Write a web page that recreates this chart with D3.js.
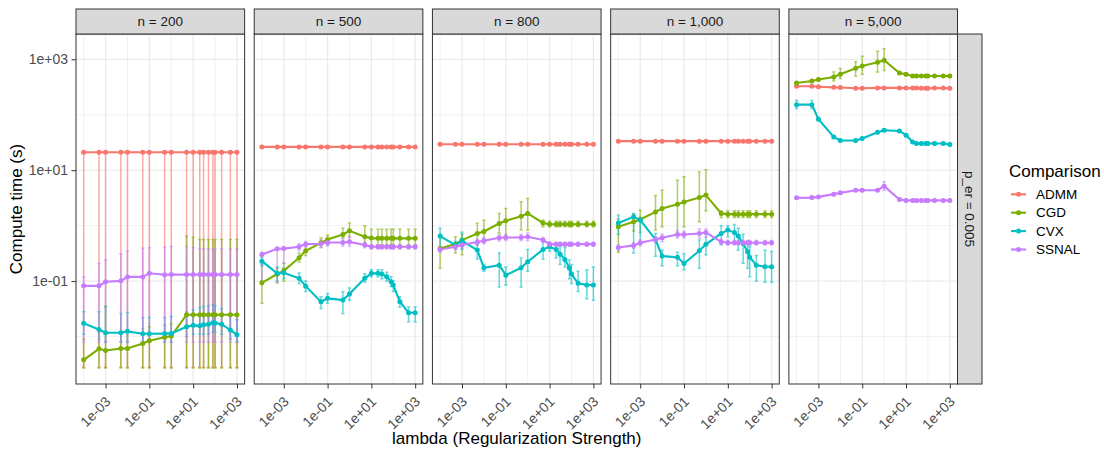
<!DOCTYPE html>
<html><head><meta charset="utf-8">
<script src="https://cdn.jsdelivr.net/npm/d3@7"></script>
<style>body{margin:0;background:#fff}svg{display:block;font-family:"Liberation Sans",Arial,sans-serif}</style>
</head><body><svg id="c" width="1104" height="451"></svg>
<script>
// ---- data ----
const lambdas = [1e-4,5e-4,1e-3,5e-3,1e-2,5e-2,0.1,0.5,1,5,10,20,30,50,80,100,200,500,1000];
const methods = ["ADMM","CGD","CVX","SSNAL"];
const colors = ["#F8766D","#7CAE00","#00BFC4","#C77CFF"];
const panelLabels = ["n = 200","n = 500","n = 800","n = 1,000","n = 5,000"];
const rowLabel = "p_er = 0.005";
const yTicks = [1e-1,1e1,1e3];
const yTickLabels = ["1e-01","1e+01","1e+03"];
const xTicks = [1e-3,1e-1,1e1,1e3];
const xTickLabels = ["1e-03","1e-01","1e+01","1e+03"];

// [mean, lower, upper] for each lambda
const n200_ADMM = [[21,0.0028,22.5],[21,0.0028,22.5],[21,0.0028,22.5],[21,0.0028,22.5],[21,0.0028,22.5],[21,0.0028,22.5],[21,0.0028,22.5],[21,0.0028,22.5],[21,0.0028,22.5],[21,0.0028,22.5],[21,0.0028,22.5],[21,0.0028,22.5],[21,0.0028,22.5],[21,0.0028,22.5],[21,0.0028,22.5],[21,0.0028,22.5],[21,0.0028,22.5],[21,0.0028,22.5],[21,0.0028,22.5]];
const n200_CGD = [[0.0038,0.0027,0.009],[0.0060,0.0027,0.012],[0.0056,0.0027,0.035],[0.0061,0.0027,0.012],[0.0061,0.0027,0.012],[0.0075,0.0027,0.014],[0.0084,0.0027,0.015],[0.0097,0.0027,0.016],[0.0102,0.0027,0.017],[0.0247,0.0027,0.65],[0.0247,0.0027,0.62],[0.0247,0.0027,0.56],[0.0247,0.0027,0.56],[0.0247,0.0027,0.56],[0.0247,0.0027,0.56],[0.0247,0.0027,0.56],[0.0247,0.0027,0.56],[0.0247,0.0027,0.56],[0.0247,0.0027,0.56]];
const n200_CVX = [[0.0173,0.011,0.028],[0.0134,0.009,0.028],[0.0117,0.008,0.034],[0.0117,0.008,0.026],[0.0124,0.008,0.027],[0.0112,0.008,0.022],[0.0112,0.008,0.022],[0.0113,0.008,0.022],[0.0114,0.008,0.023],[0.0150,0.010,0.028],[0.0159,0.011,0.030],[0.0156,0.011,0.033],[0.0163,0.011,0.035],[0.0167,0.011,0.036],[0.0177,0.012,0.038],[0.0176,0.012,0.036],[0.0167,0.011,0.032],[0.0131,0.009,0.025],[0.0108,0.008,0.020]];
const n200_SSNAL = [[0.082,0.008,0.12],[0.082,0.008,0.21],[0.097,0.008,0.24],[0.101,0.008,0.31],[0.119,0.008,0.35],[0.119,0.008,0.39],[0.138,0.008,0.40],[0.130,0.008,0.41],[0.131,0.008,0.42],[0.131,0.008,0.42],[0.131,0.008,0.40],[0.131,0.008,0.38],[0.131,0.008,0.38],[0.131,0.008,0.38],[0.131,0.008,0.38],[0.131,0.008,0.38],[0.131,0.008,0.38],[0.131,0.008,0.38],[0.131,0.008,0.38]];

const n500_ADMM = [[26.3,25.5,27.1],[26.3,25.5,27.1],[26.3,25.5,27.1],[26.3,25.5,27.1],[26.3,25.5,27.1],[26.3,25.5,27.1],[26.3,25.5,27.1],[26.3,25.5,27.1],[26.3,25.5,27.1],[26.3,25.5,27.1],[26.3,25.5,27.1],[26.3,25.5,27.1],[26.3,25.5,27.1],[26.3,25.5,27.1],[26.3,25.5,27.1],[26.3,25.5,27.1],[26.3,25.5,27.1],[26.3,25.5,27.1],[26.3,25.5,27.1]];
const n500_CGD = [[0.093,0.040,0.20],[0.134,0.092,0.171],[0.153,0.10,0.21],[0.263,0.22,0.32],[0.352,0.29,0.45],[0.49,0.41,0.60],[0.563,0.45,0.67],[0.693,0.60,0.90],[0.805,0.64,1.12],[0.628,0.49,1.0],[0.596,0.45,0.86],[0.59,0.45,0.86],[0.59,0.45,0.86],[0.59,0.45,0.86],[0.59,0.45,0.86],[0.59,0.45,0.86],[0.59,0.45,0.86],[0.59,0.45,0.86],[0.59,0.45,0.86]];
const n500_CVX = [[0.229,0.19,0.27],[0.138,0.10,0.18],[0.141,0.11,0.17],[0.112,0.09,0.14],[0.081,0.065,0.10],[0.0424,0.032,0.052],[0.0488,0.04,0.06],[0.0455,0.026,0.064],[0.0583,0.045,0.075],[0.112,0.095,0.135],[0.138,0.12,0.16],[0.138,0.12,0.16],[0.134,0.11,0.16],[0.12,0.10,0.145],[0.097,0.08,0.12],[0.085,0.065,0.10],[0.0424,0.034,0.052],[0.0269,0.0185,0.034],[0.0269,0.0185,0.034]];
const n500_SSNAL = [[0.303,0.10,0.33],[0.382,0.096,0.40],[0.385,0.21,0.41],[0.415,0.36,0.47],[0.464,0.41,0.52],[0.47,0.40,0.55],[0.497,0.43,0.58],[0.497,0.43,0.58],[0.51,0.43,0.62],[0.446,0.40,0.50],[0.415,0.38,0.45],[0.415,0.38,0.45],[0.415,0.38,0.45],[0.415,0.38,0.45],[0.415,0.38,0.45],[0.415,0.38,0.45],[0.415,0.38,0.45],[0.415,0.38,0.45],[0.415,0.38,0.45]];

const n800_ADMM = [[29.4,28.6,30.2],[29.4,28.6,30.2],[29.4,28.6,30.2],[29.4,28.6,30.2],[29.4,28.6,30.2],[29.4,28.6,30.2],[29.4,28.6,30.2],[29.4,28.6,30.2],[29.4,28.6,30.2],[29.4,28.6,30.2],[29.4,28.6,30.2],[29.4,28.6,30.2],[29.4,28.6,30.2],[29.4,28.6,30.2],[29.4,28.6,30.2],[29.4,28.6,30.2],[29.4,28.6,30.2],[29.4,28.6,30.2],[29.4,28.6,30.2]];
const n800_CGD = [[0.388,0.17,0.65],[0.464,0.32,0.63],[0.548,0.30,0.70],[0.723,0.45,1.1],[0.785,0.55,1.25],[1.09,0.73,1.66],[1.22,0.60,2.04],[1.48,0.83,2.7],[1.66,0.83,3.1],[1.12,0.95,1.25],[1.06,0.95,1.2],[1.06,0.95,1.2],[1.06,0.95,1.2],[1.06,0.95,1.2],[1.06,0.95,1.2],[1.06,0.95,1.2],[1.06,0.95,1.2],[1.06,0.95,1.2],[1.06,0.95,1.2]];
const n800_CVX = [[0.647,0.39,0.9],[0.446,0.38,0.52],[0.533,0.37,0.76],[0.362,0.25,0.45],[0.174,0.15,0.20],[0.194,0.078,0.32],[0.128,0.085,0.18],[0.174,0.078,0.26],[0.223,0.15,0.37],[0.372,0.25,0.55],[0.415,0.35,0.50],[0.372,0.26,0.48],[0.306,0.20,0.42],[0.246,0.18,0.40],[0.172,0.11,0.24],[0.134,0.09,0.20],[0.091,0.065,0.15],[0.085,0.048,0.16],[0.085,0.045,0.18]];
const n800_SSNAL = [[0.372,0.33,0.42],[0.415,0.37,0.47],[0.446,0.39,0.50],[0.505,0.45,0.56],[0.533,0.47,0.60],[0.603,0.53,0.68],[0.61,0.54,0.69],[0.61,0.54,0.69],[0.63,0.54,0.74],[0.55,0.50,0.61],[0.464,0.43,0.50],[0.464,0.43,0.50],[0.464,0.43,0.50],[0.464,0.43,0.50],[0.464,0.43,0.50],[0.464,0.43,0.50],[0.464,0.43,0.50],[0.464,0.43,0.50],[0.464,0.43,0.50]];

const n1000_ADMM = [[33.4,32.4,34.4],[33.4,32.4,34.4],[33.4,32.4,34.4],[33.4,32.4,34.4],[33.4,32.4,34.4],[33.4,32.4,34.4],[33.4,32.4,34.4],[33.4,32.4,34.4],[33.4,32.4,34.4],[33.4,32.4,34.4],[33.4,32.4,34.4],[33.4,32.4,34.4],[33.4,32.4,34.4],[33.4,32.4,34.4],[33.4,32.4,34.4],[33.4,32.4,34.4],[33.4,32.4,34.4],[33.4,32.4,34.4],[33.4,32.4,34.4]];
const n1000_CGD = [[0.95,0.33,1.3],[1.17,0.8,1.6],[1.29,0.75,1.9],[1.77,0.83,3.5],[2.04,0.95,4.35],[2.44,0.72,6.6],[2.68,0.95,7.6],[3.22,1.17,9.3],[3.55,1.85,10.2],[1.66,1.4,1.85],[1.61,1.4,1.85],[1.61,1.4,1.85],[1.61,1.4,1.85],[1.61,1.4,1.85],[1.61,1.4,1.85],[1.61,1.4,1.85],[1.61,1.4,1.85],[1.61,1.4,1.85],[1.61,1.4,1.85]];
const n1000_CVX = [[1.12,0.7,1.55],[1.44,0.32,1.65],[1.26,0.46,1.4],[0.563,0.28,0.72],[0.282,0.19,0.36],[0.268,0.19,0.33],[0.208,0.16,0.31],[0.352,0.17,0.55],[0.46,0.3,0.72],[0.723,0.45,1.0],[0.83,0.63,1.0],[0.75,0.5,1.05],[0.647,0.36,0.9],[0.476,0.21,0.7],[0.337,0.17,0.5],[0.27,0.12,0.42],[0.194,0.10,0.29],[0.181,0.095,0.36],[0.181,0.095,0.34]];
const n1000_SSNAL = [[0.404,0.36,0.45],[0.44,0.39,0.49],[0.49,0.43,0.55],[0.563,0.49,0.64],[0.603,0.52,0.70],[0.693,0.60,0.80],[0.693,0.60,0.79],[0.723,0.60,0.87],[0.75,0.62,0.87],[0.51,0.46,0.56],[0.49,0.45,0.54],[0.49,0.45,0.54],[0.49,0.45,0.54],[0.49,0.45,0.54],[0.49,0.45,0.54],[0.49,0.45,0.54],[0.49,0.45,0.54],[0.49,0.45,0.54],[0.49,0.45,0.54]];

const n5000_ADMM = [[326,316,336],[326,316,336],[320,310,330],[312,303,322],[310,301,320],[300,291,309],[300,291,309],[305,296,314],[305,296,314],[305,296,314],[302,293,311],[302,293,311],[302,293,311],[300,291,309],[300,291,309],[300,291,309],[302,293,311],[302,293,311],[300,291,309]];
const n5000_CGD = [[374,355,395],[406,385,428],[431,410,455],[480,412,590],[537,450,680],[689,500,900],[758,537,1140],[884,590,1400],[960,630,1550],[566,540,595],[537,510,565],[500,475,525],[500,475,525],[500,475,525],[500,475,525],[500,475,525],[500,475,525],[500,475,525],[500,475,525]];
const n5000_CVX = [[152,130,180],[152,130,180],[83,79,87],[39.8,38,42],[34.3,32.6,36],[34.3,32.6,36],[37.2,35.4,39],[48.4,46,51],[52.6,50,55],[51,48.5,53.5],[42.8,40.7,45],[32.4,30.8,34],[30.3,28.8,31.8],[30.3,28.8,31.8],[30.3,28.8,31.8],[30.3,28.8,31.8],[30.3,28.8,31.8],[30.3,28.8,31.8],[29,27.6,30.5]];
const n5000_SSNAL = [[3.17,3.0,3.33],[3.2,3.05,3.36],[3.3,3.14,3.47],[3.7,3.5,3.9],[3.9,3.7,4.1],[4.36,4.15,4.6],[4.36,4.15,4.6],[4.36,4.15,4.6],[5.15,4.3,6.2],[2.96,2.8,3.1],[2.85,2.7,3.0],[2.85,2.7,3.0],[2.85,2.7,3.0],[2.85,2.7,3.0],[2.85,2.7,3.0],[2.85,2.7,3.0],[2.85,2.7,3.0],[2.85,2.7,3.0],[2.85,2.7,3.0]];

const panelData = [
  [n200_ADMM,n200_CGD,n200_CVX,n200_SSNAL],
  [n500_ADMM,n500_CGD,n500_CVX,n500_SSNAL],
  [n800_ADMM,n800_CGD,n800_CVX,n800_SSNAL],
  [n1000_ADMM,n1000_CGD,n1000_CVX,n1000_SSNAL],
  [n5000_ADMM,n5000_CGD,n5000_CVX,n5000_SSNAL]
];

// ---- layout ----
const svg = d3.select("#c");
const pLeft = 76, pRight = 957.5, pTop = 34, pBottom = 384, stripTop = 9, gap = 9.6;
const pw = (pRight - pLeft - gap*4)/5;
const y = d3.scaleLog().domain([Math.pow(10,-2.856), Math.pow(10,3.456)]).range([pBottom, pTop]);
const xDom = [Math.pow(10,-4.35), Math.pow(10,3.35)];
const yMinor = [1e-2,1e0,1e2];
const xMinor = [1e-4,1e-2,1e0,1e2];
const tickColor = "#333333", textColor = "#4D4D4D";

panelLabels.forEach((lab, p) => {
  const x0 = pLeft + p*(pw+gap);
  const x = d3.scaleLog().domain(xDom).range([x0, x0+pw]);
  const g = svg.append("g");
  g.append("rect").attr("x",x0).attr("y",pTop).attr("width",pw).attr("height",pBottom-pTop).attr("fill","#fff");
  yMinor.forEach(v => g.append("line").attr("x1",x0).attr("x2",x0+pw).attr("y1",y(v)).attr("y2",y(v)).attr("stroke","#EBEBEB").attr("stroke-width",0.7));
  xMinor.forEach(v => g.append("line").attr("y1",pTop).attr("y2",pBottom).attr("x1",x(v)).attr("x2",x(v)).attr("stroke","#EBEBEB").attr("stroke-width",0.7));
  yTicks.forEach(v => g.append("line").attr("x1",x0).attr("x2",x0+pw).attr("y1",y(v)).attr("y2",y(v)).attr("stroke","#EBEBEB").attr("stroke-width",1.3));
  xTicks.forEach(v => g.append("line").attr("y1",pTop).attr("y2",pBottom).attr("x1",x(v)).attr("x2",x(v)).attr("stroke","#EBEBEB").attr("stroke-width",1.3));

  const clip = "clip"+p;
  svg.append("clipPath").attr("id",clip).append("rect").attr("x",x0).attr("y",pTop).attr("width",pw).attr("height",pBottom-pTop);
  const dg = g.append("g").attr("clip-path","url(#"+clip+")");
  const series = panelData[p];
  series.forEach((s, m) => {
    const eg = dg.append("g").attr("stroke",colors[m]).attr("stroke-width",1.5).attr("opacity",0.6);
    s.forEach((d, i) => {
      const cx = x(lambdas[i]);
      eg.append("path").attr("fill","none")
        .attr("d",`M${cx-1.6},${y(d[2])}H${cx+1.6}M${cx},${y(d[2])}V${y(d[1])}M${cx-1.6},${y(d[1])}H${cx+1.6}`);
    });
  });
  series.forEach((s, m) => {
    const line = d3.line().x((d,i)=>x(lambdas[i])).y(d=>y(d[0]));
    dg.append("path").datum(s).attr("d",line).attr("fill","none").attr("stroke",colors[m]).attr("stroke-width",2.1);
  });
  series.forEach((s, m) => {
    dg.selectAll(null).data(s).enter().append("circle")
      .attr("cx",(d,i)=>x(lambdas[i])).attr("cy",d=>y(d[0])).attr("r",2.5).attr("fill",colors[m]);
  });
  g.append("rect").attr("x",x0).attr("y",pTop).attr("width",pw).attr("height",pBottom-pTop).attr("fill","none").attr("stroke","#333333").attr("stroke-width",1);
  g.append("rect").attr("x",x0).attr("y",stripTop).attr("width",pw).attr("height",pTop-stripTop).attr("fill","#D9D9D9").attr("stroke","#333333").attr("stroke-width",1);
  g.append("text").attr("x",x0+pw/2).attr("y",(stripTop+pTop)/2).attr("dy","0.35em").attr("text-anchor","middle")
    .attr("font-size",13.5).attr("fill","#1A1A1A").text(lab);
  const xa = d3.axisBottom(x).tickValues(xTicks).tickSize(4.5).tickFormat((d,i)=>xTickLabels[i]);
  const ax = svg.append("g").attr("transform",`translate(0,${pBottom})`).call(xa);
  ax.select(".domain").remove();
  ax.selectAll(".tick line").attr("stroke",tickColor).attr("stroke-width",1);
  ax.selectAll(".tick text").attr("fill",textColor).attr("font-size",14).attr("font-family","Liberation Sans, Arial, sans-serif")
    .attr("text-anchor","end").attr("y",0).attr("dy","0.75em")
    .attr("transform","translate(-2,11) rotate(-45)");
});

const ya = d3.axisLeft(y).tickValues(yTicks).tickSize(4.5).tickFormat((d,i)=>yTickLabels[i]);
const ay = svg.append("g").attr("transform",`translate(${pLeft},0)`).call(ya);
ay.select(".domain").remove();
ay.selectAll(".tick line").attr("stroke",tickColor);
ay.selectAll(".tick text").attr("fill",textColor).attr("font-size",14).attr("font-family","Liberation Sans, Arial, sans-serif").attr("x",-8);

svg.append("rect").attr("x",pRight).attr("y",pTop).attr("width",24.5).attr("height",pBottom-pTop).attr("fill","#D9D9D9").attr("stroke","#333333").attr("stroke-width",1);
svg.append("text").attr("transform",`translate(${pRight+12.25},${(pTop+pBottom)/2}) rotate(90)`).attr("text-anchor","middle").attr("dy","0.35em")
  .attr("font-size",13.5).attr("fill","#1A1A1A").text(rowLabel);

svg.append("text").attr("x",(pLeft+pRight)/2).attr("y",444).attr("text-anchor","middle").attr("font-size",17).attr("fill","#000").text("lambda (Regularization Strength)");
svg.append("text").attr("transform",`translate(22,${(pTop+pBottom)/2}) rotate(-90)`).attr("text-anchor","middle").attr("font-size",17).attr("fill","#000").text("Compute time (s)");

svg.append("text").attr("x",1009).attr("y",176.5).attr("font-size",17).attr("fill","#000").text("Comparison");
methods.forEach((m, i) => {
  const ly = 194.3 + i*18.4;
  svg.append("line").attr("x1",1011).attr("x2",1026).attr("y1",ly).attr("y2",ly).attr("stroke",colors[i]).attr("stroke-width",2.1);
  svg.append("circle").attr("cx",1018.5).attr("cy",ly).attr("r",2.5).attr("fill",colors[i]);
  svg.append("text").attr("x",1036).attr("y",ly).attr("dy","0.35em").attr("font-size",13.5).attr("fill","#000").text(m);
});
</script></body></html>
